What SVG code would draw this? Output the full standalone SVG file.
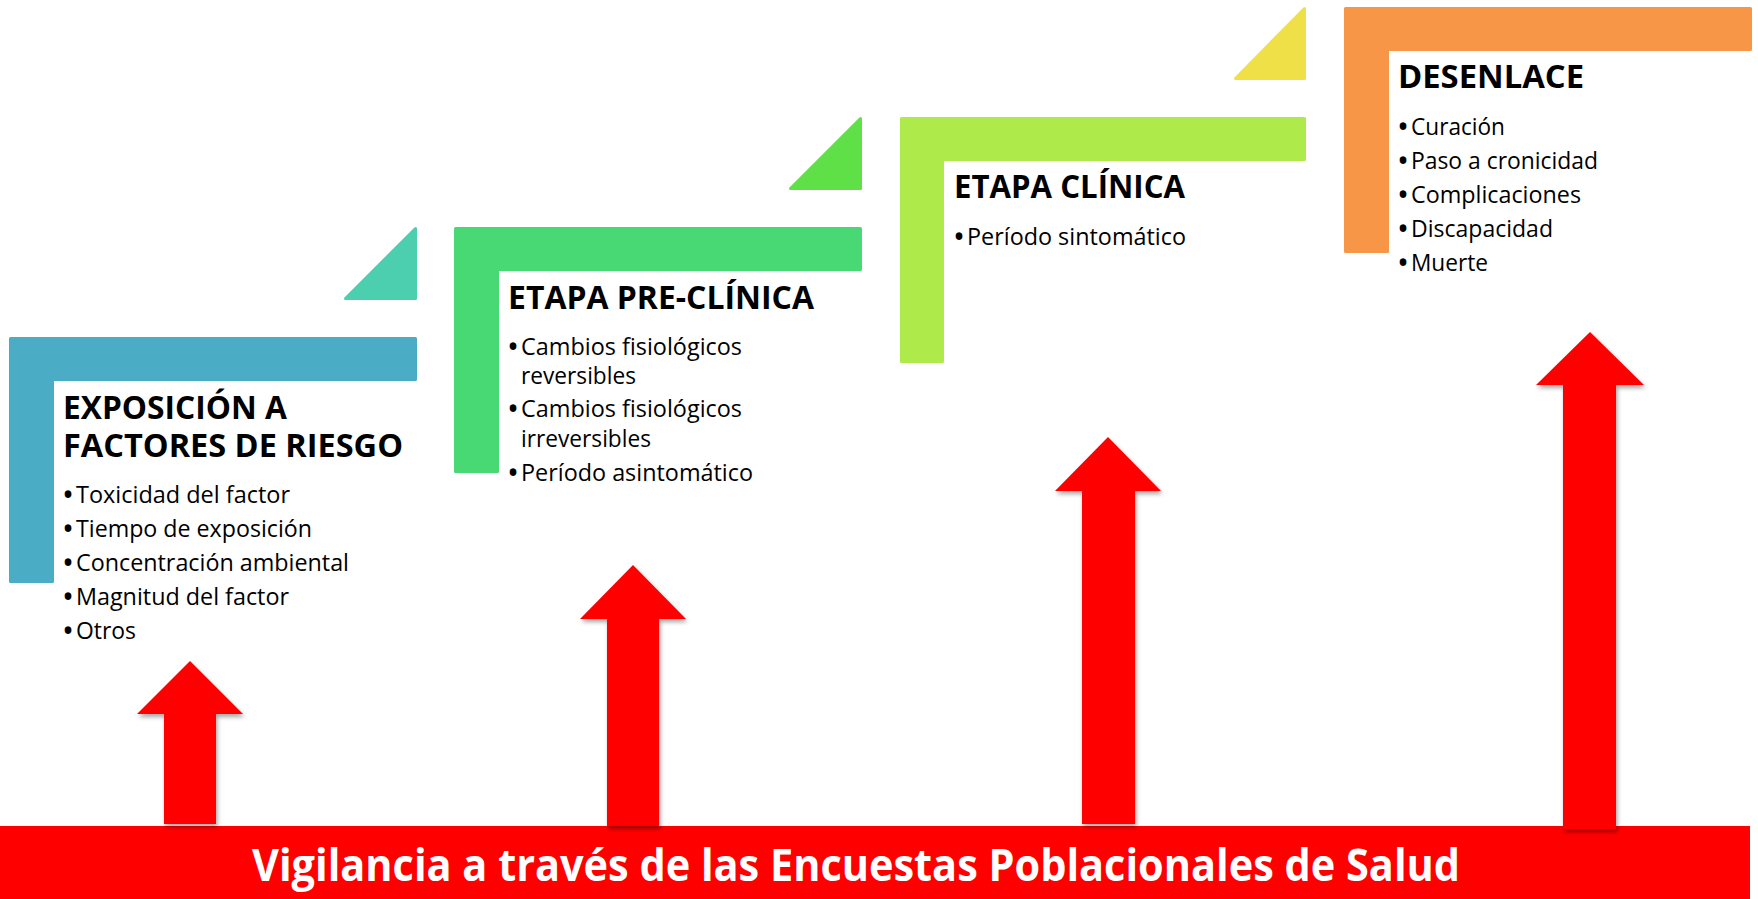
<svg xmlns="http://www.w3.org/2000/svg" width="1758" height="899" viewBox="0 0 1758 899">
<style>
  .shape { stroke-width: 3; stroke-linejoin: round; }
  .title { font-family: "Open Sans", "Noto Sans", sans-serif; font-weight: 700; font-size: 32px; fill: #000; }
  .item { font-family: "Open Sans", "Noto Sans", sans-serif; font-size: 24px; fill: #000; }
  .dot { font-size: 32px; }
  .arrow { fill: #FF0000; filter: url(#shadow); }
  .banner-text { font-family: "Open Sans", "Noto Sans", sans-serif; font-weight: 700; font-size: 44px; fill: #FFFFFF; }
</style>
<defs>
  <filter id="shadow" x="-30%" y="-10%" width="160%" height="130%">
    <feDropShadow dx="1.5" dy="3" stdDeviation="2" flood-color="#000" flood-opacity="0.35"/>
  </filter>
</defs>
<rect width="1758" height="899" fill="#FFFFFF"/>

<g id="banner">
  <rect x="0" y="826" width="1750" height="73" fill="#FF0000"/>
  <text class="banner-text" x="252" y="881" textLength="1208" lengthAdjust="spacingAndGlyphs">Vigilancia a través de las Encuestas Poblacionales de Salud</text>
</g>

<g id="stage-exposicion">
  <polygon class="shape" points="345.5,298.5 415.5,228.5 415.5,298.5" fill="#4BCFAE" stroke="#4BCFAE"/>
  <polygon class="shape" points="10.5,338.5 415.5,338.5 415.5,379.5 52.5,379.5 52.5,581.5 10.5,581.5" fill="#4BACC6" stroke="#4BACC6"/>
  <text class="title" x="63" y="419" textLength="224" lengthAdjust="spacingAndGlyphs">EXPOSICIÓN A</text>
  <text class="title" x="63" y="457" textLength="340" lengthAdjust="spacingAndGlyphs">FACTORES DE RIESGO</text>
  <text class="item"><tspan class="dot" x="62" y="506">•</tspan><tspan x="76" y="503" textLength="214" lengthAdjust="spacingAndGlyphs">Toxicidad del factor</tspan></text>
  <text class="item"><tspan class="dot" x="62" y="540">•</tspan><tspan x="76" y="537" textLength="236" lengthAdjust="spacingAndGlyphs">Tiempo de exposición</tspan></text>
  <text class="item"><tspan class="dot" x="62" y="574">•</tspan><tspan x="76" y="571" textLength="273" lengthAdjust="spacingAndGlyphs">Concentración ambiental</tspan></text>
  <text class="item"><tspan class="dot" x="62" y="608">•</tspan><tspan x="76" y="605" textLength="213" lengthAdjust="spacingAndGlyphs">Magnitud del factor</tspan></text>
  <text class="item"><tspan class="dot" x="62" y="642">•</tspan><tspan x="76" y="639" textLength="60" lengthAdjust="spacingAndGlyphs">Otros</tspan></text>
</g>

<g id="stage-preclinica">
  <polygon class="shape" points="790.5,188.5 860.5,118.5 860.5,188.5" fill="#5FE047" stroke="#5FE047"/>
  <polygon class="shape" points="455.5,228.5 860.5,228.5 860.5,269.5 497.5,269.5 497.5,471.5 455.5,471.5" fill="#48D874" stroke="#48D874"/>
  <text class="title" x="508" y="309" textLength="306" lengthAdjust="spacingAndGlyphs">ETAPA PRE-CLÍNICA</text>
  <text class="item"><tspan class="dot" x="507" y="358">•</tspan><tspan x="521" y="355" textLength="221" lengthAdjust="spacingAndGlyphs">Cambios fisiológicos</tspan></text>
  <text class="item" x="521" y="384" textLength="115" lengthAdjust="spacingAndGlyphs">reversibles</text>
  <text class="item"><tspan class="dot" x="507" y="420">•</tspan><tspan x="521" y="417" textLength="221" lengthAdjust="spacingAndGlyphs">Cambios fisiológicos</tspan></text>
  <text class="item" x="521" y="447" textLength="130" lengthAdjust="spacingAndGlyphs">irreversibles</text>
  <text class="item"><tspan class="dot" x="507" y="484">•</tspan><tspan x="521" y="481" textLength="232" lengthAdjust="spacingAndGlyphs">Período asintomático</tspan></text>
</g>

<g id="stage-clinica">
  <polygon class="shape" points="1235.5,78.5 1304.5,8.5 1304.5,78.5" fill="#F0E048" stroke="#F0E048"/>
  <polygon class="shape" points="901.5,118.5 1304.5,118.5 1304.5,159.5 942.5,159.5 942.5,361.5 901.5,361.5" fill="#AEEA4A" stroke="#AEEA4A"/>
  <text class="title" x="954" y="198" textLength="231" lengthAdjust="spacingAndGlyphs">ETAPA CLÍNICA</text>
  <text class="item"><tspan class="dot" x="953" y="248">•</tspan><tspan x="967" y="245" textLength="219" lengthAdjust="spacingAndGlyphs">Período sintomático</tspan></text>
</g>

<g id="stage-desenlace">
  <polygon class="shape" points="1345.5,8.5 1750.5,8.5 1750.5,49.5 1387.5,49.5 1387.5,251.5 1345.5,251.5" fill="#F79646" stroke="#F79646"/>
  <text class="title" x="1398" y="88" textLength="186" lengthAdjust="spacingAndGlyphs">DESENLACE</text>
  <text class="item"><tspan class="dot" x="1397" y="138">•</tspan><tspan x="1411" y="135" textLength="94" lengthAdjust="spacingAndGlyphs">Curación</tspan></text>
  <text class="item"><tspan class="dot" x="1397" y="172">•</tspan><tspan x="1411" y="169" textLength="187" lengthAdjust="spacingAndGlyphs">Paso a cronicidad</tspan></text>
  <text class="item"><tspan class="dot" x="1397" y="206">•</tspan><tspan x="1411" y="203" textLength="170" lengthAdjust="spacingAndGlyphs">Complicaciones</tspan></text>
  <text class="item"><tspan class="dot" x="1397" y="240">•</tspan><tspan x="1411" y="237" textLength="142" lengthAdjust="spacingAndGlyphs">Discapacidad</tspan></text>
  <text class="item"><tspan class="dot" x="1397" y="274">•</tspan><tspan x="1411" y="271" textLength="77" lengthAdjust="spacingAndGlyphs">Muerte</tspan></text>
</g>

<g id="connectors">
  <polygon class="arrow" points="190,661 243,714 216,714 216,824 164,824 164,714 137,714"/>
  <polygon class="arrow" points="633,565 686,619 659,619 659,826 607,826 607,619 580,619"/>
  <polygon class="arrow" points="1108,437 1161,491 1135,491 1135,824 1082,824 1082,491 1055,491"/>
  <polygon class="arrow" points="1590,332 1644,385 1616,385 1616,829 1563,829 1563,385 1536,385"/>
</g>
</svg>
